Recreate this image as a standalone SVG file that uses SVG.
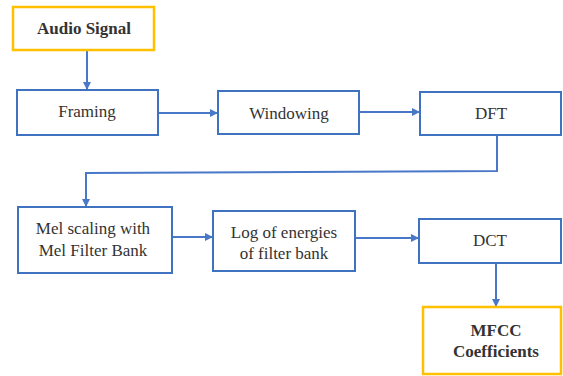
<svg xmlns="http://www.w3.org/2000/svg" width="563" height="376" viewBox="0 0 563 376">
<style>
.box{fill:#fff;stroke:#3f72bf;stroke-width:2}
.term{fill:#fff;stroke:#ffc000;stroke-width:2.5}
.t{font-family:'Liberation Serif','Times New Roman',serif;font-size:17px;fill:#333;text-anchor:middle}
.b{font-weight:bold}
.c{fill:none;stroke:#4a78c8;stroke-width:2}
</style>
<defs>
<marker id="ah" markerWidth="8" markerHeight="8" refX="7" refY="4" orient="auto" markerUnits="userSpaceOnUse">
<path d="M0,0 L8,4 L0,8 Z" fill="#4a78c8"/>
</marker>
</defs>
<rect width="563" height="376" fill="#fff"/>
<g id="connectors">
<path class="c" d="M87,50 V89" marker-end="url(#ah)"/>
<path class="c" d="M158,113 H217" marker-end="url(#ah)"/>
<path class="c" d="M359,112 H419" marker-end="url(#ah)"/>
<path class="c" d="M497,135 V171 L86,173 V206" marker-end="url(#ah)"/>
<path class="c" d="M172,237 H212" marker-end="url(#ah)"/>
<path class="c" d="M355,238 H418" marker-end="url(#ah)"/>
<path class="c" d="M496,263 V306" marker-end="url(#ah)"/>
</g>
<g id="audio">
<rect class="term" x="13" y="7" width="141" height="43"/>
<text class="t b" x="84" y="34">Audio Signal</text>
</g>
<g id="framing">
<rect class="box" x="17" y="90" width="141" height="45"/>
<text class="t" x="87" y="117">Framing</text>
</g>
<g id="windowing">
<rect class="box" x="218" y="91" width="141" height="43"/>
<text class="t" x="289" y="119">Windowing</text>
</g>
<g id="dft">
<rect class="box" x="420" y="92" width="141" height="43"/>
<text class="t" x="491" y="119">DFT</text>
</g>
<g id="mel">
<rect class="box" x="18" y="207" width="154" height="66"/>
<text class="t" x="93" y="234">Mel scaling with</text>
<text class="t" x="93" y="256">Mel Filter Bank</text>
</g>
<g id="log">
<rect class="box" x="213" y="211" width="142" height="60"/>
<text class="t" x="284" y="238">Log of energies</text>
<text class="t" x="284" y="259">of filter bank</text>
</g>
<g id="dct">
<rect class="box" x="419" y="219" width="142" height="44"/>
<text class="t" x="490" y="246">DCT</text>
</g>
<g id="mfcc">
<rect class="term" x="423" y="307" width="138" height="67"/>
<text class="t b" x="496" y="336">MFCC</text>
<text class="t b" x="496" y="357">Coefficients</text>
</g>
</svg>
